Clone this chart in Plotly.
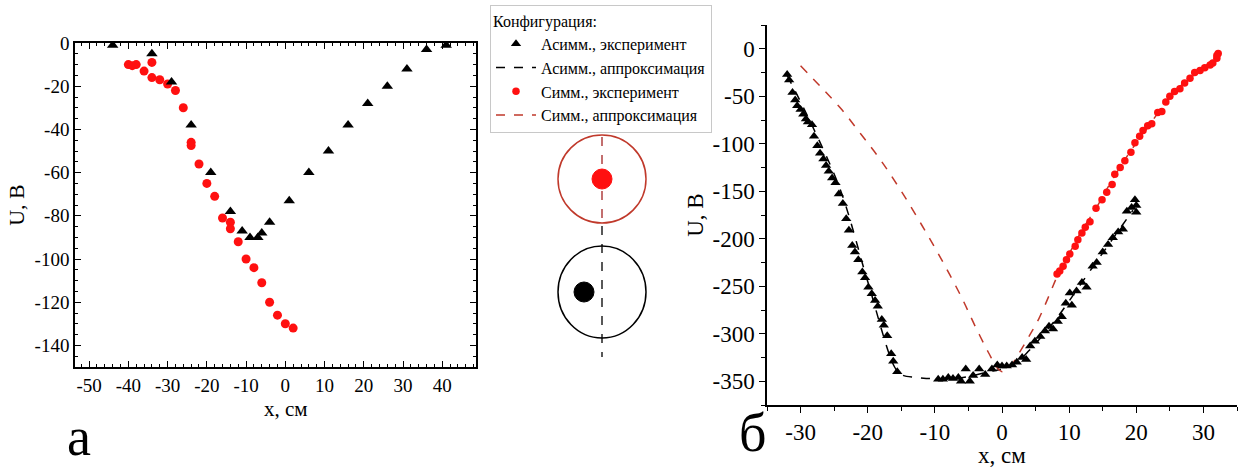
import plotly.graph_objects as go

W, H = 1241, 468

# ---------------- panel (а) data ----------------
a_asym_x = [-44, -34, -29, -24, -19, -14, -11, -9, -7, -6, -4, 1, 6, 11, 16, 21, 26, 31, 36, 41]
a_asym_y = [-1, -5, -18, -38, -60, -78, -87, -90, -90, -88, -83, -73, -60, -50, -38, -28, -20, -12, -3, -1]

a_sym_x = [-40, -39, -38, -36, -34, -34, -32, -30, -28, -26, -24, -24, -22, -20, -18, -16,
           -14, -14, -12, -10, -8, -6, -4, -2, 0, 2]
a_sym_y = [-10, -10.5, -10, -13, -9, -16, -17, -19, -22, -30, -46, -47.5, -56, -65, -71, -81,
           -83, -86, -92, -100, -104, -111, -120, -126, -130, -132]

a_xticks = [-50, -40, -30, -20, -10, 0, 10, 20, 30, 40]
a_yticks = [0, -20, -40, -60, -80, -100, -120, -140]

# ---------------- panel (б) data ----------------
b_asym_x = [-32, -31.7, -31.2, -30.8, -30.5, -30, -29.6, -29.2, -28.9, -28.3, -28, -27.5, -27.1,
            -26.6, -26.2, -25.8, -25.3, -24.8, -24.3, -23.7, -23.2, -22.8, -22.3, -21.9, -21.4,
            -20.8, -20.4, -19.9, -19.4, -18.9, -18.5, -17.9, -17.6, -17.1, -16.5, -16.2, -15.6,
            -9.5, -8.8, -8, -7.3, -6.5, -6.1, -5.4, -4.8, -4.3, -3.4, -2.5, -1.5, -0.7, 0, 0.7,
            1.5, 2.2, 3, 3.6, 4.2, 4.9, 5.7, 6.4, 7, 7.6, 8.3, 8.9, 9.5, 10.4, 10.1, 11.1, 11.9,
            12.6, 13.5, 14.1, 15, 15.8, 16.5, 17.3, 18, 18.6, 19.3, 19.8, 20, 20]
b_asym_y = [-27, -33, -46, -54, -60, -64, -69, -74, -77, -80, -92, -102, -110,
            -116, -123, -129, -136, -141, -153, -163, -179, -191, -207, -214, -222,
            -235, -241, -251, -258, -265, -271, -285, -291, -302, -321, -329, -340,
            -348, -348, -346, -347, -346, -350, -337, -350, -344, -337, -343, -337, -333, -334, -334,
            -333, -330, -325, -327, -313, -308, -303, -297, -292, -295, -287, -282, -268, -270, -257,
            -255, -246, -251, -229, -225, -214, -206, -199, -193, -190, -171, -167, -159, -172, -165]

b_asym_fit_x = [-32, -28, -24, -20, -16, -15, -13, -11, -9, -5, -2, 0, 2, 4, 8, 12, 16, 19.5]
b_asym_fit_y = [-28, -85, -150, -245, -335, -343, -346, -347, -348, -345, -340, -337, -331, -318,
                -285, -245, -205, -170]

b_sym_x = [8.2, 8.6, 9.1, 9.6, 10.1, 10.9, 11.3, 11.9, 12.4, 13.1, 14, 14.9, 15.6, 16.4, 16.8,
           17.6, 18.3, 19.2, 19.8, 20.5, 21, 21.7, 22.3, 23.2, 23.8, 24.4, 25, 25.7, 26.5, 27.2,
           28, 28.7, 29.5, 30.2, 31, 31.4, 32, 32.2, 32]
b_sym_y = [-237, -234, -229, -222, -216, -208, -201, -194, -188, -182, -168, -159, -151, -143,
           -132, -125, -118, -109, -99, -92, -86, -81, -79, -67, -66, -56, -50, -45, -42, -36,
           -31, -25, -23, -20, -17, -15, -10, -5, -7]

b_sym_fit_x = [-30, -27, -24, -21, -18, -15, -12, -9, -6, -4, -2, -0.7, 0, 1, 2.4, 4, 5.5, 7, 8.2,
               10, 12, 14, 16, 18, 20, 22, 24, 26, 28, 30, 32]
b_sym_fit_y = [-18, -40, -63, -90, -118, -150, -185, -222, -262, -292, -320, -336, -340, -337,
               -322, -303, -284, -260, -240, -216, -190, -168, -143, -120, -99, -80, -60, -43,
               -31, -20, -8]

b_xticks = [-30, -20, -10, 0, 10, 20, 30]
b_yticks = [0, -50, -100, -150, -200, -250, -300, -350]

legend_title = "Конфигурация:"
names = ["Асимм., эксперимент", "Асимм., аппроксимация", "Симм., эксперимент", "Симм., аппроксимация"]

FONT = "Liberation Serif, Times New Roman, serif"
RED = "#ff1010"
DRED = "#c0392b"

fig = go.Figure()

# panel б traces (shown in legend)
fig.add_trace(go.Scatter(x=b_asym_fit_x, y=b_asym_fit_y, mode="lines", name=names[1],
                         line=dict(color="black", dash="dash", width=1.5, shape="spline"),
                         xaxis="x2", yaxis="y2", legendrank=2))
fig.add_trace(go.Scatter(x=b_sym_fit_x, y=b_sym_fit_y, mode="lines", name=names[3],
                         line=dict(color=DRED, dash="dash", width=1.5, shape="spline"),
                         xaxis="x2", yaxis="y2", legendrank=4))
fig.add_trace(go.Scatter(x=b_asym_x, y=b_asym_y, mode="markers", name=names[0],
                         marker=dict(symbol="triangle-up", size=9, color="black"),
                         xaxis="x2", yaxis="y2", legendrank=1))
fig.add_trace(go.Scatter(x=b_sym_x, y=b_sym_y, mode="markers", name=names[2],
                         marker=dict(symbol="circle", size=7.5, color=RED),
                         xaxis="x2", yaxis="y2", legendrank=3))

# panel а traces
fig.add_trace(go.Scatter(x=a_sym_x, y=a_sym_y, mode="markers", showlegend=False,
                         marker=dict(symbol="circle", size=9, color=RED),
                         xaxis="x", yaxis="y"))
fig.add_trace(go.Scatter(x=a_asym_x, y=a_asym_y, mode="markers", showlegend=False,
                         marker=dict(symbol="triangle-up", size=10, color="black"),
                         xaxis="x", yaxis="y"))

def px(v):
    return v / W

def py(v):
    return 1 - v / H

def lbl(vals):
    return [str(v) for v in vals]

tf_a = dict(family=FONT, size=19, color="black")
tf_b = dict(family=FONT, size=23, color="black")
ttl_a = dict(family=FONT, size=21, color="black")
ttl_b = dict(family=FONT, size=23, color="black")

common = dict(tickcolor="black", showline=True, linecolor="black", linewidth=1.5,
              showgrid=False, zeroline=False, automargin=False,
              tickmode="array", tickwidth=1.2, ticklen=6)

fig.update_layout(
    width=W, height=H,
    margin=dict(l=0, r=0, t=0, b=0, autoexpand=False),
    paper_bgcolor="white", plot_bgcolor="white",
    font=dict(family=FONT, color="black"),
    xaxis=dict(domain=[px(75), px(476)], range=[-53.6, 48.6], anchor="y",
               tickvals=a_xticks, ticktext=lbl(a_xticks), ticks="inside", mirror="allticks",
               tickfont=tf_a,
               minor=dict(dtick=2, tick0=-50, ticks="inside", ticklen=3, tickcolor="black", tickwidth=1),
               **common),
    yaxis=dict(domain=[py(367), py(43)], range=[-150, 0], anchor="x",
               tickvals=a_yticks, ticktext=lbl(a_yticks), ticks="inside", mirror="allticks",
               tickfont=tf_a,
               minor=dict(dtick=5, tick0=0, ticks="inside", ticklen=3, tickcolor="black", tickwidth=1),
               title=dict(text="U, В", font=dict(family=FONT, size=22, color="black"), standoff=4),
               **common),
    xaxis2=dict(domain=[px(767), px(1237)], range=[-35, 35], anchor="y2",
                tickvals=b_xticks, ticktext=lbl(b_xticks), ticks="outside", mirror=False,
                tickfont=tf_b,
                minor=dict(dtick=5, tick0=-35, ticks="outside", ticklen=4, tickcolor="black", tickwidth=1),
                title=dict(text="x, см", font=ttl_b, standoff=0), **common),
    yaxis2=dict(domain=[py(405), py(25)], range=[-375, 25], anchor="x2",
                tickvals=b_yticks, ticktext=lbl(b_yticks), ticks="outside", mirror=False,
                tickfont=tf_b,
                minor=dict(dtick=25, tick0=0, ticks="outside", ticklen=4, tickcolor="black", tickwidth=1),
                title=dict(text="U, В", font=ttl_b, standoff=2), **common),
    legend=dict(x=px(490), y=py(5), xanchor="left", yanchor="top",
                bgcolor="white", bordercolor="#c8c8c8", borderwidth=1,
                font=dict(family=FONT, size=16, color="black"),
                title=dict(text=legend_title, font=dict(family=FONT, size=16, color="black")),
                tracegroupgap=0, itemwidth=40),
    showlegend=True,
)

# schematic of the two configurations (decorative, in paper space)
shapes = [
    dict(type="line", xref="paper", yref="paper", x0=px(602), x1=px(602), y0=py(119), y1=py(226),
         line=dict(color="#b04040", width=1.5, dash="dash")),
    dict(type="line", xref="paper", yref="paper", x0=px(602), x1=px(602), y0=py(226), y1=py(357),
         line=dict(color="#222222", width=1.5, dash="dash")),
    dict(type="circle", xref="paper", yref="paper", x0=px(558), x1=px(646), y0=py(135), y1=py(223),
         line=dict(color="#c0392b", width=1.5)),
    dict(type="circle", xref="paper", yref="paper", x0=px(592), x1=px(612), y0=py(169), y1=py(189),
         fillcolor=RED, line=dict(color=RED, width=1)),
    dict(type="circle", xref="paper", yref="paper", x0=px(558), x1=px(646), y0=py(246), y1=py(338),
         line=dict(color="black", width=1.5)),
    dict(type="circle", xref="paper", yref="paper", x0=px(574), x1=px(594), y0=py(282), y1=py(302),
         fillcolor="black", line=dict(color="black", width=1)),
]
fig.update_layout(shapes=shapes)

# x-axis title of panel а (placed close under the tick labels, as in the original)
fig.add_annotation(text="x, см", xref="paper", yref="paper", x=px(286), y=py(409),
                   xanchor="center", yanchor="middle",
                   showarrow=False, font=ttl_a)
fig.add_annotation(text="а", xref="paper", yref="paper", x=px(79), y=py(437),
                   xanchor="center", yanchor="middle",
                   showarrow=False, font=dict(family=FONT, size=54, color="black"))
fig.add_annotation(text="б", xref="paper", yref="paper", x=px(752), y=py(433),
                   xanchor="center", yanchor="middle",
                   showarrow=False, font=dict(family=FONT, size=54, color="black"))

fig.write_html("out.html", config={"displayModeBar": False},
               post_script="document.body.style.margin='0';")
